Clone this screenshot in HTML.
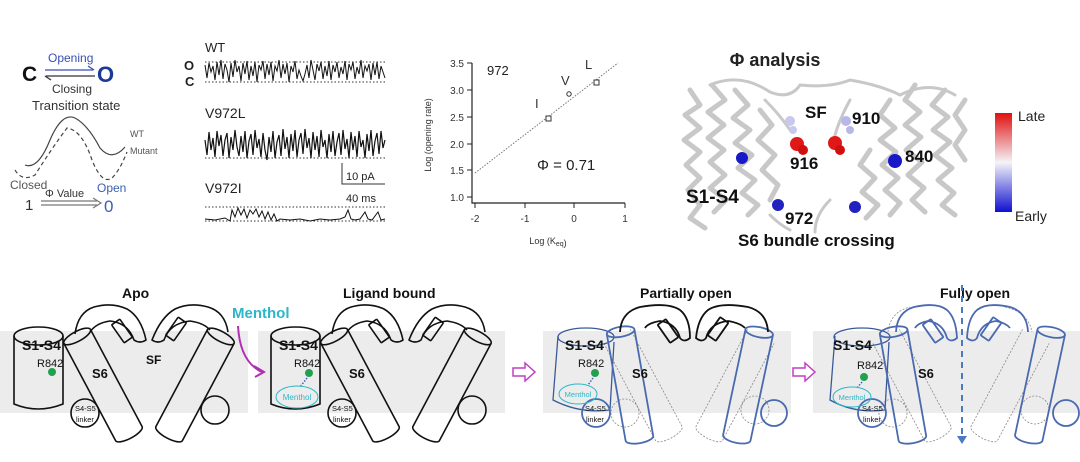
<!DOCTYPE html>
<html><head><meta charset="utf-8"><style>
body{margin:0;background:#fff;}
svg{display:block;font-family:"Liberation Sans",sans-serif;}
.b{font-weight:bold}
</style></head><body>
<svg width="1080" height="462" viewBox="0 0 1080 462" xmlns="http://www.w3.org/2000/svg">
<defs>
<linearGradient id="cb" x1="0" y1="0" x2="0" y2="1">
<stop offset="0" stop-color="#e01010"/><stop offset="0.5" stop-color="#f4f4f8"/><stop offset="1" stop-color="#1010d0"/></linearGradient>
<g id="chan" fill="none" stroke="#111" stroke-width="1.6">
 <path d="M14,336 L14,404 Q38,414 63,404 L63,336"/>
 <ellipse cx="38.5" cy="336" rx="24.5" ry="9"/>
 <g transform="translate(103,385) rotate(-28)"><path d="M-15,-55 L-15,55 A15,5 0 0 0 15,55 L15,-55"/><ellipse cx="0" cy="-55" rx="15" ry="5"/></g>
 <g transform="translate(195,385) rotate(28)"><path d="M-15,-55 L-15,55 A15,5 0 0 0 15,55 L15,-55"/><ellipse cx="0" cy="-55" rx="15" ry="5"/></g>
 <path d="M75,334 Q78,312 94,307 Q112,302 127,309 Q141,317 146,340 Q140,344 134,340 Q128,323 110,321 Q96,323 90,332"/>
 <path d="M228,332 Q225,312 208,307 Q190,302 175,309 Q161,317 152,340 Q158,344 164,340 Q170,323 190,321 Q204,323 210,330"/>
 <g transform="translate(122,331) rotate(-35)"><rect x="-5" y="-11" width="10" height="22" rx="1"/></g>
 <g transform="translate(176,329) rotate(35)"><rect x="-5" y="-11" width="10" height="22" rx="1"/></g>
 <circle cx="85" cy="413" r="14"/>
 <circle cx="215" cy="410" r="14"/>
</g>
</defs>

<rect x="0" y="331" width="248" height="82" fill="#ececec"/>
<rect x="258" y="331" width="247" height="82" fill="#ececec"/>
<rect x="543" y="331" width="248" height="82" fill="#ececec"/>
<rect x="813" y="331" width="267" height="82" fill="#ececec"/>

<!-- kinetics -->
<text x="48" y="62" font-size="12" fill="#3a4fb0">Opening</text>
<text x="22" y="81" font-size="21" class="b" fill="#111">C</text>
<text x="97" y="82" font-size="22" class="b" fill="#1a3a9a">O</text>
<line x1="45" y1="70" x2="93" y2="70" stroke="#3a4fb0" stroke-width="1.3"/>
<path d="M88,66 L94,70" stroke="#3a4fb0" stroke-width="1.3"/>
<line x1="46" y1="76" x2="95" y2="76" stroke="#333" stroke-width="1.3"/>
<path d="M51,80 L45,76" stroke="#333" stroke-width="1.3"/>
<text x="52" y="93" font-size="12" fill="#333">Closing</text>
<text x="32" y="110" font-size="13" fill="#333">Transition state</text>
<path d="M25,165 Q38,170 50,140 Q62,112 75,118 Q88,125 100,148 Q112,162 125,147" fill="none" stroke="#444" stroke-width="1.2"/>
<path d="M15,170 Q22,182 35,175 Q52,148 67,128 Q82,130 92,160 Q102,185 112,178 Q120,170 127,152" fill="none" stroke="#444" stroke-width="1.2" stroke-dasharray="4,3"/>
<text x="130" y="137" font-size="9" fill="#555">WT</text>
<text x="130" y="154" font-size="9" fill="#555">Mutant</text>
<text x="10" y="189" font-size="12" fill="#555">Closed</text>
<text x="97" y="192" font-size="12" fill="#3a5fb0">Open</text>
<text x="45" y="197" font-size="11" fill="#333">Φ Value</text>
<text x="25" y="210" font-size="15" fill="#333">1</text>
<path d="M41,201 L97,201 M41,205 L97,205 M93,198 L101,203 L93,208" fill="none" stroke="#777" stroke-width="1.2"/>
<text x="104" y="212" font-size="17" fill="#3a5fb0">0</text>

<!-- traces -->
<text x="205" y="52" font-size="13" fill="#222">WT</text>
<text x="184" y="70" font-size="13" class="b" fill="#222">O</text>
<text x="185" y="86" font-size="13" class="b" fill="#222">C</text>
<line x1="205" y1="62" x2="385" y2="62" stroke="#333" stroke-dasharray="1.5,2"/>
<line x1="205" y1="82" x2="385" y2="82" stroke="#333" stroke-dasharray="1.5,2"/>
<polyline fill="none" stroke="#111" stroke-width="1" points="205,65 207,78 209,63 211,72 213,66 215,80 217,62 219,75 221,60 223,79 225,64 227,70 229,82 231,63 233,77 235,60 237,72 239,66 241,81 243,63 245,74 247,61 249,80 251,66 253,76 255,62 257,82 259,65 261,70 263,61 265,79 267,64 269,75 271,62 273,81 275,66 277,71 279,60 281,78 283,64 285,74 287,63 289,82 291,66 293,72 295,61 297,79 299,70 301,76 303,81 305,74 307,65 309,78 311,60 313,70 315,80 317,64 319,71 321,62 323,79 325,66 327,76 329,61 331,80 333,65 335,72 337,62 339,78 341,67 343,74 345,61 347,80 349,64 351,70 353,62 355,79 357,67 359,74 361,60 363,78 365,66 367,71 369,64 371,80 373,63 375,75 377,62 379,79 381,66 383,72 385,78"/>
<text x="205" y="118" font-size="14" fill="#222">V972L</text>
<line x1="205" y1="158" x2="385" y2="158" stroke="#333" stroke-dasharray="1.5,2"/>
<polyline fill="none" stroke="#111" stroke-width="1.2" points="205,140 207,155 209,132 211,150 213,138 215,157 217,131 219,146 221,135 223,156 225,140 227,133 229,158 231,137 233,150 235,130 237,147 239,156 241,136 243,152 245,131 247,158 249,141 251,134 253,155 255,130 257,148 259,139 261,157 263,133 265,150 267,160 269,137 271,152 273,131 275,158 277,142 279,135 281,156 283,129 285,149 287,137 289,158 291,134 293,151 295,130 297,157 299,140 301,133 303,154 305,129 307,148 309,138 311,158 313,132 315,150 317,136 319,157 321,130 323,147 325,140 327,158 329,134 331,152 333,131 335,156 337,142 339,133 341,155 343,130 345,149 347,139 349,158 351,132 353,150 355,136 357,157 359,131 361,147 363,140 365,158 367,134 369,151 371,130 373,156 375,141 377,133 379,154 381,131 383,148 385,140"/>
<path d="M342,163 L342,184 L385,184" fill="none" stroke="#333" stroke-width="1"/>
<text x="346" y="180" font-size="11" fill="#222">10 pA</text>
<text x="346" y="202" font-size="11" fill="#222">40 ms</text>
<text x="205" y="193" font-size="14" fill="#222">V972I</text>
<line x1="205" y1="207" x2="385" y2="207" stroke="#333" stroke-dasharray="1.5,2"/>
<line x1="205" y1="221" x2="385" y2="221" stroke="#333" stroke-dasharray="1.5,2"/>
<polyline fill="none" stroke="#111" stroke-width="1" points="205,219 215,220 225,218 230,221 232,210 235,217 238,208 241,215 244,209 247,218 250,210 253,214 256,209 259,217 262,211 265,219 268,212 271,220 274,214 277,221 280,219 290,220 300,219 310,221 320,219 330,220 340,219 345,217 348,210 351,219 355,220 360,219 365,212 368,219 372,220 378,212 381,220 385,219"/>

<!-- chart -->
<path d="M472,63 L472,203 L625,203" fill="none" stroke="#222" stroke-width="1.2"/>
<g stroke="#222" stroke-width="1">
<line x1="467" y1="63" x2="472" y2="63"/><line x1="467" y1="90" x2="472" y2="90"/><line x1="467" y1="117" x2="472" y2="117"/><line x1="467" y1="144" x2="472" y2="144"/><line x1="467" y1="170" x2="472" y2="170"/><line x1="467" y1="197" x2="472" y2="197"/>
<line x1="475" y1="203" x2="475" y2="208"/><line x1="525" y1="203" x2="525" y2="208"/><line x1="574" y1="203" x2="574" y2="208"/><line x1="625" y1="203" x2="625" y2="208"/>
</g>
<g font-size="10" fill="#333" text-anchor="end">
<text x="464" y="67">3.5</text><text x="464" y="94">3.0</text><text x="464" y="121">2.5</text><text x="464" y="148">2.0</text><text x="464" y="174">1.5</text><text x="464" y="201">1.0</text></g>
<g font-size="10" fill="#333" text-anchor="middle">
<text x="475" y="222">-2</text><text x="525" y="222">-1</text><text x="574" y="222">0</text><text x="625" y="222">1</text></g>
<text x="548" y="244" font-size="9" fill="#333" text-anchor="middle">Log (K<tspan font-size="7" dy="2">eq</tspan>)</text>
<text transform="translate(431,135) rotate(-90)" font-size="9" fill="#333" text-anchor="middle">Log (opening rate)</text>
<line x1="475" y1="173" x2="618" y2="63" stroke="#777" stroke-dasharray="1.5,1.5"/>
<text x="487" y="75" font-size="13" fill="#222">972</text>
<text x="535" y="108" font-size="13" fill="#333">I</text>
<text x="561" y="85" font-size="13" fill="#333">V</text>
<text x="585" y="69" font-size="13" fill="#333">L</text>
<rect x="546" y="116" width="5" height="5" fill="#fff" stroke="#333"/>
<circle cx="569" cy="94" r="2.2" fill="#fff" stroke="#333"/>
<rect x="594" y="80" width="5" height="5" fill="#fff" stroke="#333"/>
<text x="537" y="170" font-size="15" fill="#222">Φ = 0.71</text>

<!-- structure -->
<text x="775" y="66" font-size="18" class="b" fill="#222" text-anchor="middle">Φ analysis</text>
<g fill="none" stroke="#c8c8c8" stroke-width="5" stroke-linecap="round" stroke-linejoin="round">
<path d="M690,90 L700,105 L685,115 L700,128 L684,140 L700,152 L686,165 L700,178 L688,190 L700,205 L690,218 L705,228"/>
<path d="M712,85 L725,100 L708,112 L724,125 L708,138 L724,150 L710,162 L725,175 L710,188 L726,200 L714,212"/>
<path d="M735,90 L748,105 L733,118 L750,130 L735,143 L752,155 L738,168 L755,180 L742,193 L758,205 L748,215"/>
<path d="M760,110 L772,125 L758,140 L775,155 L762,170 L778,185 L770,200"/>
<path d="M870,150 L860,165 L875,178 L862,192 L878,205 L866,218"/>
<path d="M890,100 L880,115 L895,128 L880,140 L896,152 L882,165 L898,178 L885,190 L900,203 L890,215"/>
<path d="M915,85 L905,100 L920,112 L905,125 L921,137 L906,150 L922,162 L908,175 L924,188 L912,200 L925,212"/>
<path d="M945,90 L932,105 L948,117 L933,130 L950,142 L935,155 L952,168 L938,180 L954,193 L942,205 L955,215"/>
<path d="M965,100 L955,115 L965,130 L955,145 L965,160"/>
<path d="M710,85 Q740,72 770,92 Q790,100 800,85 Q830,88 850,80 Q880,85 900,95 Q930,80 955,95" stroke-width="3"/>
<path d="M765,100 Q780,115 790,130 M850,100 Q840,118 835,135" stroke-width="3"/>
<path d="M770,215 Q780,225 790,230 M830,200 Q815,215 815,232" stroke-width="3"/>
</g>
<g>
<circle cx="790" cy="121" r="5" fill="#c8c8ee"/><circle cx="793" cy="130" r="4" fill="#c8c8ee"/>
<circle cx="846" cy="121" r="5" fill="#b8b8e8"/><circle cx="850" cy="130" r="4" fill="#b8b8e8"/>
<circle cx="797" cy="144" r="7" fill="#e01818"/><circle cx="803" cy="150" r="5" fill="#d01010"/>
<circle cx="835" cy="143" r="7" fill="#e01818"/><circle cx="840" cy="150" r="5" fill="#d01010"/>
<circle cx="742" cy="158" r="6" fill="#1818c8"/><circle cx="895" cy="161" r="7" fill="#1818c8"/>
<circle cx="778" cy="205" r="6" fill="#2222c0"/><circle cx="855" cy="207" r="6" fill="#2222c0"/>
</g>
<g class="b" fill="#111">
<text x="805" y="118" font-size="17">SF</text>
<text x="852" y="124" font-size="17">910</text>
<text x="790" y="169" font-size="17">916</text>
<text x="905" y="162" font-size="17">840</text>
<text x="686" y="203" font-size="19">S1-S4</text>
<text x="785" y="224" font-size="17">972</text>
<text x="738" y="246" font-size="17">S6 bundle crossing</text>
</g>
<rect x="995" y="113" width="17" height="99" fill="url(#cb)"/>
<text x="1018" y="121" font-size="14" fill="#222">Late</text>
<text x="1015" y="221" font-size="14" fill="#222">Early</text>

<!-- bottom panels -->
<use href="#chan"/>
<use href="#chan" transform="translate(257,0)"/>
<g font-size="14" class="b" fill="#111">
<text x="122" y="298">Apo</text>
<text x="343" y="298">Ligand bound</text>
<text x="640" y="298">Partially open</text>
<text x="940" y="298">Fully open</text>
</g>
<text x="232" y="318" font-size="15" class="b" fill="#2bb7c8">Menthol</text>
<path d="M238,326 Q240,362 262,372" fill="none" stroke="#b030b0" stroke-width="2"/>
<path d="M254,366 L264,372 L255,377" fill="none" stroke="#b030b0" stroke-width="2"/>
<g fill="#111">
<text x="22" y="350" font-size="14" class="b">S1-S4</text><text x="37" y="367" font-size="11">R842</text>
<text x="92" y="378" font-size="13" class="b">S6</text><text x="146" y="364" font-size="12" class="b">SF</text>
<text x="75" y="411" font-size="7.5">S4-S5</text><text x="76" y="422" font-size="7.5">linker</text>
<text x="279" y="350" font-size="14" class="b">S1-S4</text><text x="294" y="367" font-size="11">R842</text>
<text x="349" y="378" font-size="13" class="b">S6</text>
<text x="332" y="411" font-size="7.5">S4-S5</text><text x="333" y="422" font-size="7.5">linker</text>
</g>
<circle cx="52" cy="372" r="4" fill="#22a050"/>
<circle cx="309" cy="373" r="4" fill="#22a050"/>
<line x1="307" y1="378" x2="300" y2="387" stroke="#4060c0" stroke-width="1.5" stroke-dasharray="1.5,1.5"/>
<ellipse cx="297" cy="397" rx="21" ry="11" fill="none" stroke="#2bb7c8" stroke-width="1"/>
<text x="297" y="400" font-size="8" fill="#2bb7c8" text-anchor="middle">Menthol</text>

<path d="M513,368 L525,368 L525,363 L535,372 L525,381 L525,376 L513,376 Z" fill="#fff" stroke="#c040c0" stroke-width="1.5"/>
<path d="M793,368 L805,368 L805,363 L815,372 L805,381 L805,376 L793,376 Z" fill="#fff" stroke="#c040c0" stroke-width="1.5"/>

<!-- panel 3 -->
<g fill="none" stroke-width="1.3">
<g stroke="#888" stroke-width="0.8" stroke-dasharray="2,1.5">
<g transform="translate(643,385) rotate(-28)"><path d="M-15,-55 L-15,55 A15,5 0 0 0 15,55 L15,-55"/></g>
<g transform="translate(735,385) rotate(28)"><path d="M-15,-55 L-15,55 A15,5 0 0 0 15,55 L15,-55"/></g>
<circle cx="625" cy="413" r="14"/><circle cx="755" cy="410" r="14"/>
</g>
<path d="M558,336 L553,400 Q580,414 610,410 L614,342" stroke="#3a5a9a"/>
<ellipse cx="586" cy="337" rx="28" ry="9" stroke="#3a5a9a"/>
<g stroke="#4a6ab0" stroke-width="1.8">
<g transform="translate(630,385) rotate(-10)"><path d="M-14,-54 L-14,54 A14,5 0 0 0 14,54 L14,-54"/><ellipse cx="0" cy="-54" rx="14" ry="5"/></g>
<g transform="translate(748,385) rotate(12)"><path d="M-14,-54 L-14,54 A14,5 0 0 0 14,54 L14,-54"/><ellipse cx="0" cy="-54" rx="14" ry="5"/></g>
<circle cx="596" cy="413" r="14"/><circle cx="774" cy="413" r="13"/>
</g>
<g stroke="#111" stroke-width="1.8">
<path d="M620,332 Q621,312 640,307 Q668,302 680,310 Q690,318 690,338 Q684,343 680,338 Q676,323 660,321 Q648,323 645,328"/>
<path d="M768,332 Q767,312 748,307 Q720,302 708,310 Q698,318 696,338 Q702,343 706,338 Q710,323 728,321 Q740,323 745,328"/>
<g transform="translate(668,331) rotate(-35)"><rect x="-5" y="-11" width="10" height="22" rx="1"/></g>
<g transform="translate(718,329) rotate(35)"><rect x="-5" y="-11" width="10" height="22" rx="1"/></g>
</g>
</g>
<g fill="#111">
<text x="565" y="350" font-size="14" class="b">S1-S4</text><text x="578" y="367" font-size="11">R842</text>
<text x="632" y="378" font-size="13" class="b">S6</text>
<text x="585" y="411" font-size="7.5">S4-S5</text><text x="586" y="422" font-size="7.5">linker</text>
</g>
<circle cx="595" cy="373" r="4" fill="#22a050"/>
<line x1="593" y1="378" x2="588" y2="385" stroke="#4060c0" stroke-width="1.5" stroke-dasharray="1.5,1.5"/>
<ellipse cx="578" cy="394" rx="19" ry="10" fill="none" stroke="#2bb7c8"/>
<text x="578" y="397" font-size="7.5" fill="#2bb7c8" text-anchor="middle">Menthol</text>

<!-- panel 4 -->
<g fill="none" stroke-width="1.3">
<g stroke="#888" stroke-width="0.8" stroke-dasharray="2,1.5">
<g transform="translate(912,385) rotate(-28)"><path d="M-15,-55 L-15,55 A15,5 0 0 0 15,55 L15,-55"/></g>
<g transform="translate(1010,385) rotate(28)"><path d="M-15,-55 L-15,55 A15,5 0 0 0 15,55 L15,-55"/></g>
<circle cx="893" cy="413" r="14"/><circle cx="1035" cy="410" r="14"/>
<path d="M888,332 Q890,312 910,307 M1005,307 Q1028,312 1032,332"/>
</g>
<path d="M835,336 L830,400 Q855,414 885,410 L889,342" stroke="#3a5a9a"/>
<ellipse cx="862" cy="337" rx="28" ry="9" stroke="#3a5a9a"/>
<g stroke="#4a6ab0" stroke-width="1.8">
<g transform="translate(903,385) rotate(-10)"><path d="M-14,-54 L-14,54 A14,5 0 0 0 14,54 L14,-54"/><ellipse cx="0" cy="-54" rx="14" ry="5"/></g>
<g transform="translate(1040,385) rotate(12)"><path d="M-14,-54 L-14,54 A14,5 0 0 0 14,54 L14,-54"/><ellipse cx="0" cy="-54" rx="14" ry="5"/></g>
<circle cx="872" cy="413" r="14"/><circle cx="1066" cy="413" r="13"/>
<path d="M896,332 Q897,312 914,307 Q937,302 947,310 Q956,318 957,338 Q951,343 947,338 Q943,323 928,321 Q918,323 915,328"/>
<path d="M1028,332 Q1027,312 1010,307 Q987,302 977,310 Q968,318 967,338 Q973,343 977,338 Q981,323 996,321 Q1006,323 1010,328"/>
<g transform="translate(933,331) rotate(-35)"><rect x="-5" y="-11" width="10" height="22" rx="1"/></g>
<g transform="translate(991,329) rotate(35)"><rect x="-5" y="-11" width="10" height="22" rx="1"/></g>
</g>
<line x1="962" y1="285" x2="962" y2="438" stroke="#4a7ac0" stroke-width="2" stroke-dasharray="6,5"/>
<path d="M957,436 L962,444 L967,436 Z" fill="#4a7ac0"/>
</g>
<g fill="#111">
<text x="833" y="350" font-size="14" class="b">S1-S4</text><text x="857" y="369" font-size="11">R842</text>
<text x="918" y="378" font-size="13" class="b">S6</text>
<text x="862" y="411" font-size="7.5">S4-S5</text><text x="863" y="422" font-size="7.5">linker</text>
</g>
<circle cx="864" cy="377" r="4" fill="#22a050"/>
<line x1="862" y1="382" x2="857" y2="388" stroke="#4060c0" stroke-width="1.5" stroke-dasharray="1.5,1.5"/>
<ellipse cx="852" cy="397" rx="19" ry="10" fill="none" stroke="#2bb7c8"/>
<text x="852" y="400" font-size="7.5" fill="#2bb7c8" text-anchor="middle">Menthol</text>
</svg>
</body></html>
